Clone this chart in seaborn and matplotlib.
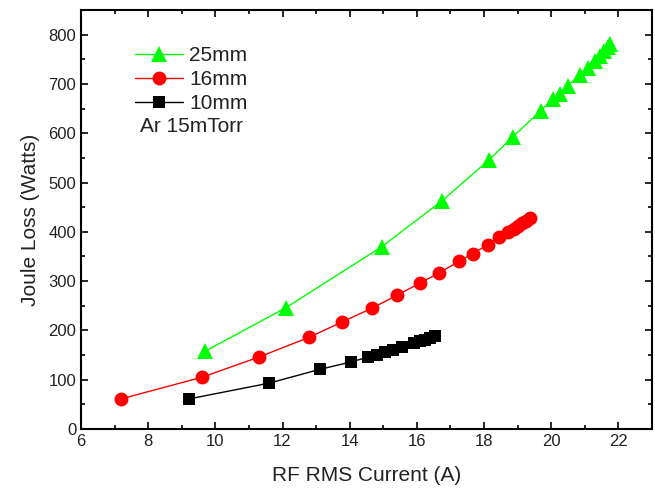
import matplotlib
matplotlib.use("Agg")
import matplotlib.pyplot as plt
import seaborn as sns
import pandas as pd
from matplotlib.ticker import MultipleLocator

# ---- data ----
x25 = [9.7, 12.1, 14.96, 16.75, 18.15, 18.86, 19.69, 20.05, 20.26, 20.49, 20.85, 21.1, 21.3, 21.45, 21.58, 21.68, 21.76]
y25 = [158, 246, 370, 463, 546, 593, 646, 670, 680, 696, 719, 733, 746, 757, 766, 774, 781]

x16 = [7.19, 9.6, 11.3, 12.79, 13.77, 14.66, 15.4, 16.09, 16.65, 17.25, 17.67, 18.11, 18.44, 18.72, 18.88, 19.0, 19.12, 19.24, 19.36]
y16 = [61, 105, 146, 186, 217, 245, 271, 296, 316, 340, 356, 374, 389, 400, 406, 412, 417, 422, 428]

x10 = [9.21, 11.6, 13.11, 14.04, 14.55, 14.8, 15.05, 15.3, 15.55, 15.9, 16.1, 16.25, 16.4, 16.55]
y10 = [61, 93, 121, 136, 146, 151, 156, 161, 166, 174, 178, 181, 185, 189]

labels = ["25mm", "16mm", "10mm"]
note = "Ar 15mTorr"
xlabel = "RF RMS Current (A)"
ylabel = "Joule Loss (Watts)"

sns.set_style("ticks")
plt.rcParams["font.family"] = ["Liberation Sans", "DejaVu Sans"]
plt.rcParams["xtick.direction"] = "in"
plt.rcParams["ytick.direction"] = "in"

fig = plt.figure(figsize=(6.55, 4.91), dpi=100)
ax = fig.add_axes([81/655, 1-429/491, (652-81)/655, (429-10)/491])

series = [
    (x25, y25, labels[0], "#00FF00", "^", 11.5),
    (x16, y16, labels[1], "#FF0000", "o", 10),
    (x10, y10, labels[2], "#000000", "s", 8.5),
]
for xs, ys, lab, col, mk, ms in series:
    df = pd.DataFrame({"x": xs, "y": ys})
    sns.lineplot(data=df, x="x", y="y", ax=ax, color=col, marker=mk,
                 markersize=ms, markeredgewidth=0, linewidth=1.0,
                 label=lab, sort=False, estimator=None)

ax.set_xlim(6, 23)
ax.set_ylim(0, 850)
ax.xaxis.set_major_locator(MultipleLocator(2))
ax.xaxis.set_minor_locator(MultipleLocator(1))
ax.yaxis.set_major_locator(MultipleLocator(100))
ax.yaxis.set_minor_locator(MultipleLocator(50))
ax.tick_params(which="both", direction="in", top=True, right=True,
               labelsize=12, width=1.2, colors="black")
ax.tick_params(axis="both", labelcolor="#222222")
ax.tick_params(which="major", length=5)
ax.tick_params(which="minor", length=3)
for s in ax.spines.values():
    s.set_linewidth(1.5)
    s.set_color("black")

ax.set_xlabel(xlabel, fontsize=15, labelpad=12, color="#222222")
ax.set_ylabel(ylabel, fontsize=15, labelpad=6, color="#222222")

leg = ax.legend(loc="upper left", bbox_to_anchor=(135/655, 1-46/491),
                bbox_transform=fig.transFigure, frameon=False, fontsize=15,
                handlelength=2.3, handletextpad=0.3, labelspacing=0.25,
                borderpad=0, borderaxespad=0)
for t in leg.get_texts():
    t.set_color("#222222")
fig.text(140/655, 1-127/491, note, fontsize=15, va="center", ha="left",
         color="#222222")

fig.savefig("out.png", dpi=100)
